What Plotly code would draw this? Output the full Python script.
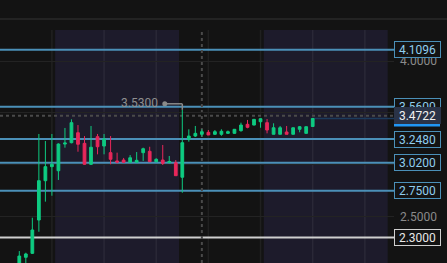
import plotly.graph_objects as go

# ---- data ----
idx = list(range(1, 47))
opens = [2.025, 2.109, 2.147, 2.468, 2.847, 2.982, 2.943, 3.200, 3.213, 3.309,
         3.207, 3.005, 3.271, 3.181, 3.117, 3.037, 3.046, 3.024, 3.024, 3.117,
         3.130, 3.030, 3.046, 3.022, 3.020, 2.880, 3.246, 3.277, 3.294, 3.313,
         3.294, 3.294, 3.303, 3.303, 3.329, 3.390, 3.383, 3.415, 3.406, 3.294,
         3.294, 3.316, 3.294, 3.342, 3.303, 3.369]
highs = [2.169, 2.153, 2.490, 3.297, 3.229, 3.297, 3.207, 3.355, 3.438, 3.383,
         3.277, 3.374, 3.297, 3.297, 3.277, 3.117, 3.066, 3.094, 3.123, 3.165,
         3.174, 3.063, 3.191, 3.085, 3.046, 3.530, 3.342, 3.374, 3.342, 3.335,
         3.335, 3.342, 3.330, 3.345, 3.406, 3.432, 3.441, 3.448, 3.441, 3.400,
         3.374, 3.374, 3.360, 3.374, 3.370, 3.449]
lows = [1.967, 2.025, 2.141, 2.355, 2.645, 2.702, 2.854, 3.165, 3.207, 3.126,
        3.000, 2.998, 3.101, 3.101, 3.005, 3.014, 3.024, 3.024, 3.024, 3.037,
        3.030, 3.024, 2.998, 3.014, 2.895, 2.731, 3.223, 3.268, 3.271, 3.287,
        3.287, 3.280, 3.297, 3.300, 3.319, 3.352, 3.380, 3.357, 3.303, 3.294,
        3.294, 3.294, 3.292, 3.313, 3.300, 3.366]
closes = [2.121, 2.141, 2.372, 2.847, 2.982, 3.005, 3.200, 3.210, 3.406, 3.198,
          3.005, 3.169, 3.174, 3.249, 3.053, 3.027, 3.024, 3.068, 3.043, 3.155,
          3.030, 3.053, 3.014, 3.032, 2.895, 3.213, 3.277, 3.303, 3.319, 3.287,
          3.319, 3.323, 3.319, 3.342, 3.383, 3.361, 3.438, 3.444, 3.335, 3.357,
          3.357, 3.294, 3.357, 3.367, 3.367, 3.446]

level_prices = [4.1096, 3.5600, 3.2480, 3.0200, 2.7500]
white_level = 2.3000
crosshair_price = 3.4722
crosshair_index = 29
axis_ticks = [2.5, 3.0, 3.5, 4.0]
axis_labels = ["2.5000", "", "", "4.0000"]   # 3.0000 / 3.5000 sit behind the price boxes
session_spans = [(6.5, 25.5), (38.5, 57.5)]
grid_indices = [6, 14, 22, 30, 38, 46, 54]

# ---- style ----
BG = "#131313"
SHADE = "#1d1b2b"
GREEN = "#0ecb81"
RED = "#e8275a"
LEVEL = "#4b90b8"
LEVEL_TXT = "#8fcdee"
FONT = "Roboto"

fig = go.Figure()
fig.add_trace(go.Candlestick(
    x=idx, open=opens, high=highs, low=lows, close=closes,
    increasing=dict(line=dict(color=GREEN, width=1), fillcolor=GREEN),
    decreasing=dict(line=dict(color=RED, width=1), fillcolor=RED),
    whiskerwidth=0, hoverinfo="skip", showlegend=False,
))

shapes = []
# session shading
for a, b in session_spans:
    shapes.append(dict(type="rect", xref="x", yref="paper", x0=a, x1=b, y0=0, y1=1,
                       fillcolor=SHADE, line=dict(width=0), layer="below"))
# vertical grid
for g in grid_indices:
    shapes.append(dict(type="line", xref="x", yref="paper", x0=g, x1=g, y0=0, y1=1,
                       line=dict(color="rgba(255,255,255,0.06)", width=1.5), layer="below"))
# top separator line
shapes.append(dict(type="line", xref="paper", yref="paper", x0=-0.01, x1=1.2,
                   y0=(263 - 19) / 233, y1=(263 - 19) / 233,
                   line=dict(color="#343434", width=1)))
# level lines
for p in level_prices:
    shapes.append(dict(type="line", xref="paper", yref="y", x0=0, x1=1, y0=p, y1=p,
                       line=dict(color=LEVEL, width=2), layer="between"))
shapes.append(dict(type="line", xref="paper", yref="y", x0=0, x1=1, y0=white_level, y1=white_level,
                   line=dict(color="#cfcfcf", width=2), layer="between"))
# last price line
shapes.append(dict(type="line", xref="x", yref="y", x0=idx[-1], x1=60, y0=closes[-1], y1=closes[-1],
                   line=dict(color="#1c3a5c", width=1.5), layer="between"))
# crosshair
shapes.append(dict(type="line", xref="paper", yref="y", x0=0, x1=1, y0=crosshair_price, y1=crosshair_price,
                   line=dict(color="#4a4a4a", width=2, dash="dot"), layer="between"))
shapes.append(dict(type="line", xref="x", yref="paper", x0=crosshair_index, x1=crosshair_index, y0=0, y1=1,
                   line=dict(color="#4a4a4a", width=2, dash="dot"), layer="between"))

# high marker
hi = max(highs)
hi_i = idx[highs.index(hi)]
shapes.append(dict(type="line", xref="x", yref="y", xsizemode="pixel", ysizemode="pixel",
                   xanchor=hi_i, yanchor=hi, x0=-17, x1=0, y0=6, y1=6,
                   line=dict(color="#8a8a8a", width=1.5)))
shapes.append(dict(type="line", xref="x", yref="y", xsizemode="pixel", ysizemode="pixel",
                   xanchor=hi_i, yanchor=hi, x0=0, x1=0, y0=6, y1=0,
                   line=dict(color="#8a8a8a", width=1.5)))
shapes.append(dict(type="circle", xref="x", yref="y", xsizemode="pixel", ysizemode="pixel",
                   xanchor=hi_i, yanchor=hi, x0=-20, x1=-15, y0=3.5, y1=8.5,
                   fillcolor="#8a8a8a", line=dict(width=0)))

annotations = []
annotations.append(dict(xref="x", yref="y", x=hi_i, y=hi, text=f"{hi:.4f}", showarrow=False,
                        xanchor="right", yanchor="middle", xshift=-22, yshift=7,
                        font=dict(family=FONT, size=12, color="#8f8f8f")))


def box(y, text, border, color, bg=BG, yref="y", yanchor="middle"):
    return dict(xref="paper", yref=yref, x=1, y=y, xanchor="left", yanchor=yanchor,
                text=text, showarrow=False, width=43, height=13, align="center",
                bordercolor=border, borderwidth=1, borderpad=1, bgcolor=bg,
                font=dict(family=FONT, size=12, color=color))


for p in level_prices:
    annotations.append(box(p, f"{p:.4f}", LEVEL, LEVEL_TXT))
annotations.append(box(white_level, f"{white_level:.4f}", "#d0d0d0", "#e8e8e8"))
annotations.append(box(-1 / 233, "", "#9a9a9a", "#e8e8e8", yref="paper", yanchor="top"))
annotations.append(box(crosshair_price, f"{crosshair_price:.4f}", "#2a3347", "#f0f0f0", bg="#2a3347"))

# blue underline of crosshair label
shapes.append(dict(type="rect", xref="paper", yref="y", ysizemode="pixel", yanchor=crosshair_price,
                   x0=1, x1=1 + 46 / 394, y0=-7.8, y1=-10.6,
                   fillcolor="#2196f3", line=dict(width=0)))

fig.update_layout(
    width=447, height=263,
    margin=dict(l=0, r=53, t=30, b=0),
    paper_bgcolor=BG, plot_bgcolor=BG,
    shapes=shapes, annotations=annotations,
    showlegend=False, boxgap=0.4,
    xaxis=dict(range=[-1.96, 58.47], showgrid=False, zeroline=False, showticklabels=False,
               rangeslider=dict(visible=False), fixedrange=True),
    yaxis=dict(range=[2.054, 4.2987], side="right", tickvals=axis_ticks,
               ticktext=axis_labels,
               tickfont=dict(family=FONT, size=12, color="#8a8a8a"),
               showgrid=True, gridcolor="#232323", gridwidth=1, zeroline=False,
               ticks="", ticklabelstandoff=5, fixedrange=True),
    font=dict(family=FONT),
)

fig.write_html("out.html")
